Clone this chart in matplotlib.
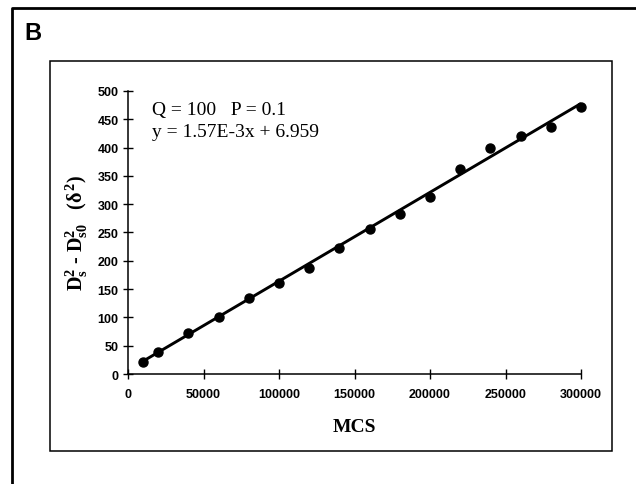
import matplotlib
matplotlib.use("Agg")
import matplotlib.pyplot as plt
from matplotlib.lines import Line2D
from matplotlib.patches import Rectangle
import numpy as np

mcs = [10000, 20000, 40000, 60000, 80000, 100000, 120000, 140000,
       160000, 180000, 200000, 220000, 240000, 260000, 280000, 300000]
dsq = [22, 38, 72, 101, 134, 160, 188, 223,
       256, 283, 313, 362, 399, 420, 437, 471]
slope = 1.57e-3
intercept = 6.959
x_ticks = [0, 50000, 100000, 150000, 200000, 250000, 300000]
y_ticks = [0, 50, 100, 150, 200, 250, 300, 350, 400, 450, 500]
panel_label = "B"
line1 = "Q = 100   P = 0.1"
line2 = "y = 1.57E-3x + 6.959"

plt.rcParams['mathtext.fontset'] = 'custom'
plt.rcParams['mathtext.rm'] = 'Liberation Serif:bold'
plt.rcParams['mathtext.it'] = 'Liberation Serif:bold'
plt.rcParams['mathtext.bf'] = 'Liberation Serif:bold'

W, H = 636, 485
fig = plt.figure(figsize=(W / 100, H / 100), dpi=100)

def fx(px):
    return px / W

def fy(py):
    return 1 - py / H

# outer frame (left and top)
fig.add_artist(Line2D([fx(12), fx(12), fx(636)], [fy(485), fy(9), fy(9)],
                      color='black', lw=2.0, transform=fig.transFigure))
# inner box
fig.add_artist(Rectangle((fx(50), fy(452)), fx(612) - fx(50), fy(62) - fy(452),
                         fill=False, edgecolor='black', lw=1.1,
                         transform=fig.transFigure))
fig.text(fx(24), fy(34), panel_label, fontsize=17, fontweight='bold',
         family='Liberation Sans', ha='left', va='center')

ax = fig.add_axes([fx(128), fy(375), fx(581) - fx(128), fy(92) - fy(375)])
ax.set_xlim(0, 300000)
ax.set_ylim(0, 500)
for s in ['top', 'right']:
    ax.spines[s].set_visible(False)
for s in ['left', 'bottom']:
    ax.spines[s].set_linewidth(1.1)
ax.patch.set_alpha(0)

xl = np.array([mcs[0], mcs[-1]])
ax.plot(xl, slope * xl + intercept, color='black', lw=2.1,
        solid_capstyle='butt', zorder=2)
ax.plot(mcs, dsq, 'o', color='black', markersize=6.5, zorder=3, clip_on=False)

ax.set_xticks(x_ticks)
ax.set_yticks(y_ticks)
ax.set_xticklabels([str(v) for v in x_ticks])
ax.set_yticklabels([str(v) for v in y_ticks])
ax.tick_params(axis='both', direction='inout', length=6.5, width=1.0,
               labelsize=9)
ax.tick_params(axis='y', pad=3.5)
ax.tick_params(axis='x', pad=7)
for lab in ax.get_xticklabels() + ax.get_yticklabels():
    lab.set_fontfamily('Liberation Sans')
    lab.set_fontweight('bold')

ax.set_xlabel('MCS', family='Liberation Serif', fontweight='bold',
              fontsize=14, va='center')
ax.xaxis.set_label_coords(0.5, -0.184)
ax.set_ylabel(r'$\mathrm{D_s^2}$ - $\mathrm{D_{s0}^2}$   $(\delta^2)$',
              family='Liberation Serif', fontweight='bold', fontsize=14.5,
              va='center', ha='center')
ax.yaxis.set_label_coords(-0.1126, 0.5)

ax.text(0.053, 0.919, line1, transform=ax.transAxes, family='Liberation Serif',
        fontsize=14, ha='left', va='baseline')
ax.text(0.053, 0.841, line2, transform=ax.transAxes, family='Liberation Serif',
        fontsize=14, ha='left', va='baseline')

fig.savefig('out.png', dpi=100)
